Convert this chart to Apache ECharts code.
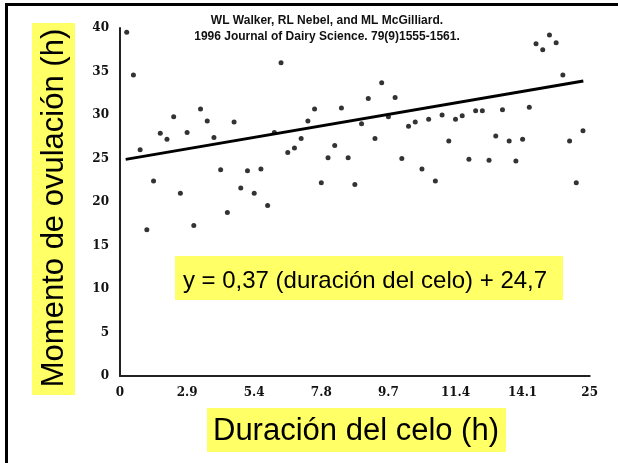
<!DOCTYPE html>
<html>
<head>
<meta charset="utf-8">
<script src="https://cdn.jsdelivr.net/npm/echarts@6/dist/echarts.min.js"></script>
<style>
  html, body { margin: 0; padding: 0; background: #fff; }
  #chart { width: 618px; height: 463px; }
</style>
</head>
<body>
<div id="chart"></div>
<script>
// ---- data ----
const titleLines = ['WL Walker, RL Nebel, and ML McGilliard.', '1996 Journal of Dairy Science. 79(9)1555-1561.'];
const yAxisTitle = 'Momento de ovulación (h)';
const xAxisTitle = 'Duración del celo (h)';
const equationText = 'y = 0,37 (duración del celo) + 24,7';
const xTickLabels = ['0', '2.9', '5.4', '7.8', '9.7', '11.4', '14.1', '25'];
const cowRank = [1, 2, 3, 4, 5, 6, 7, 8, 9, 10, 11, 12, 13, 14, 15, 16, 17, 18, 19, 20,
  21, 22, 23, 24, 25, 26, 27, 28, 29, 30, 31, 32, 33, 34, 35, 36, 37, 38, 39, 40,
  41, 42, 43, 44, 45, 46, 47, 48, 49, 50, 51, 52, 53, 54, 55, 56, 57, 58, 59, 60,
  61, 62, 63, 64, 65, 66, 67, 68, 69];
const ovulationTime = [39.5, 34.6, 26.0, 16.8, 22.4, 27.9, 27.2, 29.8, 21.0, 28.0,
  17.3, 30.7, 29.3, 27.4, 23.7, 18.8, 29.2, 21.6, 23.6, 21.0,
  23.8, 19.6, 28.0, 36.0, 25.7, 26.2, 27.3, 29.3, 30.7, 22.2,
  25.1, 26.5, 30.8, 25.1, 22.0, 29.0, 31.9, 27.3, 33.7, 29.8,
  32.0, 25.0, 28.7, 29.2, 23.8, 29.5, 22.4, 30.0, 27.0, 29.5,
  29.9, 24.9, 30.5, 30.5, 24.8, 27.6, 30.6, 27.0, 24.7, 27.2,
  30.9, 38.2, 37.5, 39.2, 38.3, 34.6, 27.0, 22.2, 28.2];
const trendX = [0.85, 69.05];
const trendY = [24.9, 33.9];
const yMin = 0, yMax = 40, yStep = 5;
const xMin = 0, xMax = 70, xStep = 10;

const points = cowRank.map((r, i) => [r, ovulationTime[i]]);
const trend = trendX.map((x, i) => [x, trendY[i]]);

const chart = echarts.init(document.getElementById('chart'));
chart.setOption({
  animation: false,
  backgroundColor: '#ffffff',
  grid: { left: 120, top: 28, width: 469.7, height: 348 },
  xAxis: {
    type: 'value', min: xMin, max: xMax, interval: xStep,
    axisLine: { show: true, lineStyle: { color: '#222', width: 2 } },
    axisTick: { show: false },
    splitLine: { show: false },
    axisLabel: {
      margin: 11,
      fontFamily: 'DejaVu Serif', fontWeight: 'bold', fontSize: 12, color: '#111',
      formatter: v => xTickLabels[Math.round((v - xMin) / xStep)]
    }
  },
  yAxis: {
    type: 'value', min: yMin, max: yMax, interval: yStep,
    axisLine: { show: true, lineStyle: { color: '#222', width: 2 } },
    axisTick: { show: false },
    splitLine: { show: false },
    axisLabel: {
      margin: 11,
      fontFamily: 'DejaVu Serif', fontWeight: 'bold', fontSize: 12, color: '#111'
    }
  },
  series: [
    {
      type: 'scatter', data: points, symbol: 'circle', symbolSize: 5,
      itemStyle: { color: '#000' }, z: 3
    },
    {
      type: 'line', data: trend, symbol: 'none',
      lineStyle: { color: '#000', width: 3 }, z: 2
    }
  ],
  graphic: [
    { type: 'rect', left: 5, top: 3, shape: { width: 3, height: 460 }, style: { fill: '#000' } },
    { type: 'rect', left: 5, top: 3, shape: { width: 613, height: 3 }, style: { fill: '#000' } },
    { type: 'text', x: 327, y: 27, style: { text: titleLines[0], font: 'bold 12px "Liberation Sans", Arial, sans-serif', fill: '#111', textAlign: 'center', textVerticalAlign: 'bottom' } },
    { type: 'text', x: 327, y: 43, style: { text: titleLines[1], font: 'bold 12px "Liberation Sans", Arial, sans-serif', fill: '#111', textAlign: 'center', textVerticalAlign: 'bottom' } },
    // y-axis title
    { type: 'rect', shape: { x: 32, y: 23, width: 43, height: 372 }, style: { fill: '#ffff66' }, z: 1 },
    { type: 'text', x: 54, y: 208, rotation: Math.PI / 2, z: 2,
      style: { text: yAxisTitle, font: '31px "Liberation Sans", Arial, sans-serif', fill: '#000', textAlign: 'center', textVerticalAlign: 'middle' } },
    // x-axis title
    { type: 'rect', shape: { x: 207, y: 408, width: 299, height: 44 }, style: { fill: '#ffff66' }, z: 1 },
    { type: 'text', x: 356, y: 431, z: 2,
      style: { text: xAxisTitle, font: '31px "Liberation Sans", Arial, sans-serif', fill: '#000', textAlign: 'center', textVerticalAlign: 'middle' } },
    // equation
    { type: 'rect', shape: { x: 175, y: 256, width: 388, height: 44 }, style: { fill: '#ffff66' }, z: 1 },
    { type: 'text', x: 365, y: 281, z: 2,
      style: { text: equationText, font: '24px "Liberation Sans", Arial, sans-serif', fill: '#000', textAlign: 'center', textVerticalAlign: 'middle' } }
  ]
});
</script>
</body>
</html>
